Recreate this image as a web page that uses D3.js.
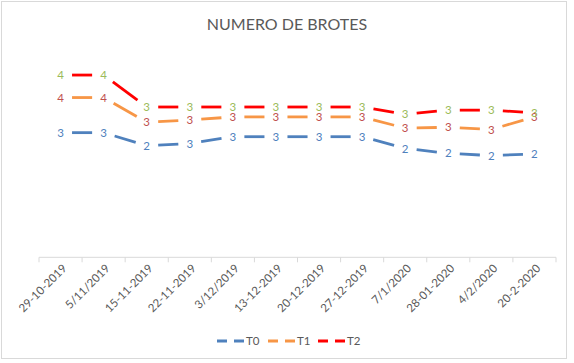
<!DOCTYPE html>
<html>
<head>
<meta charset="utf-8">
<script src="https://cdn.jsdelivr.net/npm/d3@7"></script>
<style>
  body { margin: 0; background: #fff; }
  text { font-family: Lato, "Open Sans", sans-serif; }
</style>
</head>
<body>
<div id="chart"></div>
<script>
// Data
const dates = ["29-10-2019", "5/11/2019", "15-11-2019", "22-11-2019", "3/12/2019", "13-12-2019",
  "20-12-2019", "27-12-2019", "7/1/2020", "28-01-2020", "4/2/2020", "20-2-2020"];
const seriesNames = ["T0", "T1", "T2"];
const t0 = [2.77, 2.77, 2.48, 2.53, 2.68, 2.68, 2.68, 2.68, 2.42, 2.31, 2.26, 2.30];
const t1 = [3.55, 3.55, 3.00, 3.05, 3.12, 3.12, 3.12, 3.12, 2.87, 2.89, 2.84, 3.12];
const t2 = [4.05, 4.05, 3.34, 3.34, 3.34, 3.34, 3.34, 3.34, 3.18, 3.27, 3.27, 3.21];
const lineColors = ["#4F81BD", "#F79646", "#FF0000"];
const labelColors = ["#4F81BD", "#C0504D", "#9BBB59"];

const series = [t0, t1, t2].map((values, i) => ({
  name: seriesNames[i],
  values: values
}));

const W = 574, H = 363;
const svg = d3.select("#chart")
  .append("svg")
  .attr("width", W)
  .attr("height", H);

// chart border
svg.append("rect")
  .attr("x", 1.5).attr("y", 1.5)
  .attr("width", 565).attr("height", 357)
  .attr("fill", "none")
  .attr("stroke", "#d9d9d9");

// Scales
const xScale = d3.scaleBand()
  .domain(dates)
  .range([39, 556]);

const yScale = d3.scaleLinear()
  .domain([0, 4.5])
  .range([257.3, 54.8]);

// Title
svg.append("text")
  .attr("x", 287)
  .attr("y", 30)
  .attr("text-anchor", "middle")
  .style("font-size", "16px")
  .style("fill", "#595959")
  .text("NUMERO DE BROTES");

// X axis
const xAxis = svg.append("g")
  .attr("transform", `translate(0,${yScale(0)})`);

xAxis.append("line")
  .attr("x1", xScale.range()[0]).attr("x2", xScale.range()[1])
  .attr("y1", 0).attr("y2", 0)
  .attr("stroke", "#d9d9d9");

const boundaries = dates.map(d => xScale(d)).concat([xScale.range()[1]]);
xAxis.selectAll(".tick")
  .data(boundaries)
  .enter()
  .append("line")
  .attr("x1", d => d).attr("x2", d => d)
  .attr("y1", 0).attr("y2", 5)
  .attr("stroke", "#d9d9d9");

xAxis.selectAll(".xlabel")
  .data(dates)
  .enter()
  .append("text")
  .attr("class", "xlabel")
  .attr("transform", d => `translate(${xScale(d) + xScale.bandwidth() / 2 + 4},${9}) rotate(-45)`)
  .attr("text-anchor", "end")
  .attr("dy", "0.35em")
  .style("font-size", "11.5px")
  .style("fill", "#595959")
  .text(d => d);

// Lines: one dash per segment, trimmed where the labels sit
const cx = i => xScale(dates[i]) + xScale.bandwidth() / 2;
const gap = 11.5;

series.forEach((s, si) => {
  const segs = d3.pairs(s.values.map((v, i) => [cx(i), yScale(v)]));
  svg.append("g")
    .selectAll("line")
    .data(segs)
    .enter()
    .append("line")
    .each(function ([a, b]) {
      const dx = b[0] - a[0], dy = b[1] - a[1];
      const len = Math.hypot(dx, dy);
      const ux = dx / len, uy = dy / len;
      d3.select(this)
        .attr("x1", a[0] + ux * gap).attr("y1", a[1] + uy * gap)
        .attr("x2", b[0] - ux * gap).attr("y2", b[1] - uy * gap);
    })
    .attr("stroke", lineColors[si])
    .attr("stroke-width", 2.8);

  // Data labels
  svg.append("g")
    .selectAll("text")
    .data(s.values)
    .enter()
    .append("text")
    .attr("x", (d, i) => cx(i))
    .attr("y", d => yScale(d))
    .attr("dy", "0.36em")
    .attr("text-anchor", "middle")
    .style("font-size", "11.5px")
    .style("fill", labelColors[si])
    .text(d => Math.round(d));
});

// Legend
const legend = svg.append("g")
  .attr("transform", "translate(217,341)");

const legendX = [0, 51, 101];
series.forEach((s, i) => {
  const g = legend.append("g").attr("transform", `translate(${legendX[i]},0)`);
  g.append("line")
    .attr("x1", 0).attr("x2", 28)
    .attr("y1", 0).attr("y2", 0)
    .attr("stroke", lineColors[i])
    .attr("stroke-width", 2.8)
    .attr("stroke-dasharray", "10,7");
  g.append("text")
    .attr("x", 29)
    .attr("y", 0)
    .attr("dy", "0.36em")
    .style("font-size", "11.5px")
    .style("fill", "#595959")
    .text(s.name);
});
</script>
</body>
</html>
